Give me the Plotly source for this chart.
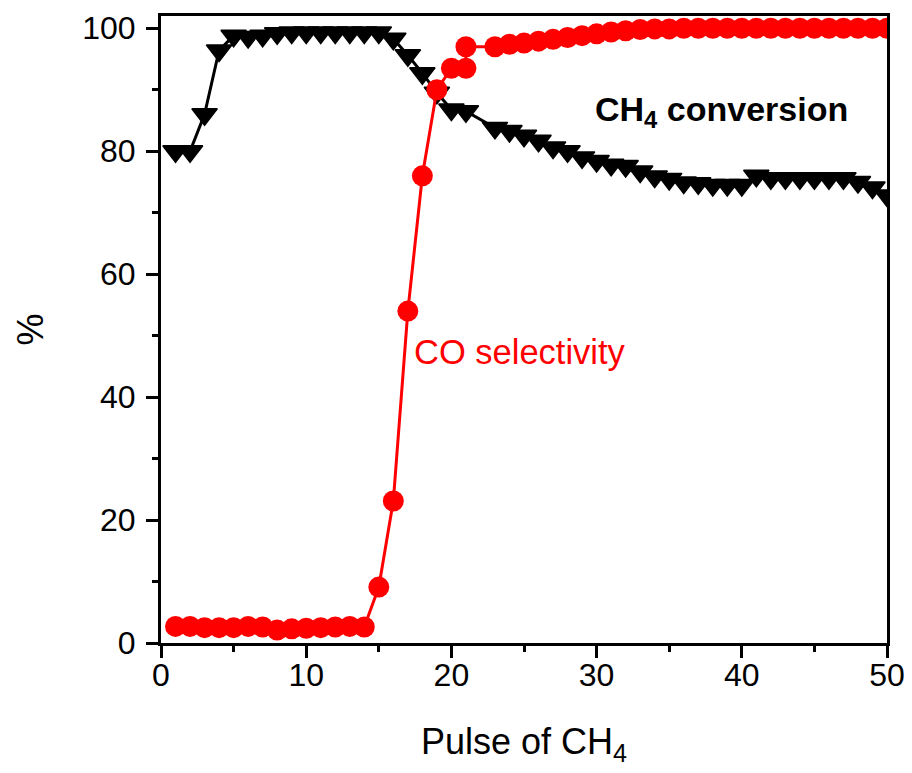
import plotly.graph_objects as go

# CH4 conversion (black down-triangles)
x_conv = list(range(1, 22)) + list(range(23, 51))
ch4_conversion = [80.0, 80.0, 86.0, 96.4, 98.8, 98.6, 98.8, 99.2, 99.3, 99.3,
                  99.3, 99.3, 99.3, 99.3, 99.3, 98.3, 95.6, 92.7, 89.5, 86.8,
                  86.5,
                  83.8, 83.3, 82.5, 81.7, 80.6, 80.0, 79.0, 78.4, 77.8, 77.6,
                  76.7, 75.9, 75.5, 74.9, 74.8, 74.5, 74.5, 74.5, 76.0, 75.6,
                  75.6, 75.6, 75.6, 75.6, 75.6, 75.0, 74.1, 72.8]

# CO selectivity (red circles)
x_sel = list(range(1, 22)) + [21] + list(range(23, 51))
co_selectivity = [2.7, 2.7, 2.5, 2.5, 2.5, 2.7, 2.6, 2.1, 2.3, 2.4,
                  2.5, 2.6, 2.7, 2.6, 9.1, 23.1, 54.0, 76.0, 90.0, 93.5,
                  93.5, 97.0,
                  97.0, 97.4, 97.6, 97.9, 98.2, 98.5, 98.8, 99.1, 99.4, 99.6,
                  99.8, 99.9, 99.9, 100, 100, 100, 100, 100, 100, 100,
                  100, 100, 100, 100, 100, 100, 100, 100]

x_ticks = [0, 10, 20, 30, 40, 50]
y_ticks = [0, 20, 40, 60, 80, 100]

FONT = "Liberation Sans, Arial, Helvetica, sans-serif"

fig = go.Figure()
fig.add_trace(go.Scatter(
    x=x_conv, y=ch4_conversion, mode="lines+markers",
    line=dict(color="black", width=3),
    marker=dict(symbol="triangle-down", size=22, color="black",
                line=dict(color="black", width=1.5)),
    showlegend=False))
fig.add_trace(go.Scatter(
    x=x_sel, y=co_selectivity, mode="lines+markers",
    line=dict(color="#ff0000", width=3),
    marker=dict(symbol="circle", size=21, color="#ff0000"),
    showlegend=False))

fig.add_annotation(x=38.6, y=86.5, xref="x", yref="y",
                   text="<b>CH<sub>4</sub> conversion</b>", showarrow=False,
                   font=dict(family=FONT, size=34, color="black"),
                   xanchor="center", yanchor="middle")
fig.add_annotation(x=17.3, y=47.3, xref="x", yref="y",
                   text="CO selectivity", showarrow=False,
                   font=dict(family=FONT, size=34.5, color="#ff0000"),
                   xanchor="left", yanchor="middle")

axis_common = dict(showline=True, linecolor="black", linewidth=3,
                   mirror=True, ticks="outside", ticklen=12, tickwidth=2.5,
                   tickcolor="black", showgrid=False, zeroline=False,
                   tickfont=dict(family=FONT, size=32, color="black"))

fig.update_xaxes(range=[0, 50], tickvals=x_ticks, ticklabelstandoff=-10,
                 minor=dict(dtick=5, tick0=0, ticks="outside", ticklen=6,
                            tickwidth=2.5, tickcolor="black"),
                 title=dict(text="Pulse of CH<sub>4</sub>",
                            font=dict(family=FONT, size=36, color="black"),
                            standoff=37),
                 **axis_common)
fig.update_yaxes(range=[0, 102], tickvals=y_ticks, ticklabelstandoff=4,
                 minor=dict(dtick=10, tick0=0, ticks="outside", ticklen=6,
                            tickwidth=2.5, tickcolor="black"),
                 title=dict(text="%",
                            font=dict(family=FONT, size=36, color="black"),
                            standoff=28),
                 **axis_common)

# the page body adds an 8 px margin, so the figure is sized to fit the window
fig.update_layout(width=904, height=765,
                  margin=dict(l=153, r=25, t=3, b=130),
                  plot_bgcolor="white", paper_bgcolor="white")

fig.write_html("out.html")
